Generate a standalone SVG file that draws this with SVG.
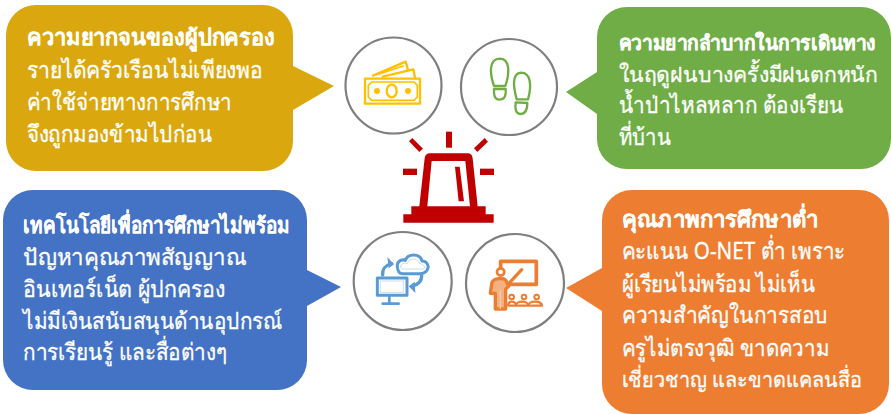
<svg xmlns="http://www.w3.org/2000/svg" width="891" height="414" viewBox="0 0 891 414">
<style>
text{font-family:"Noto Sans","Liberation Sans","DejaVu Sans",sans-serif;font-size:23px;fill:#fff;stroke:#fff;stroke-width:.3}
text.b{font-weight:700;font-size:22px;stroke-width:.1}
text.s{font-size:21.5px}
text.t{font-size:20px;stroke-width:.3}
.ring{fill:#fff;stroke:#7f7f7f;stroke-width:2.2}
.ic{fill:none;stroke-linejoin:round;stroke-linecap:round}
</style>
<rect width="891" height="414" fill="#fff"/>
<g id="connectors"></g>
<g id="bubble-poverty">
<path fill="#daa80e" d="M36 5H263A30 30 0 0 1 293 35V66L334 86L293 110V141A30 30 0 0 1 263 171H36A30 30 0 0 1 6 141V35A30 30 0 0 1 36 5Z"/>
<text class="b" x="27" y="45" textLength="248" lengthAdjust="spacingAndGlyphs">ความยากจนของผู้ปกครอง</text>
<text x="27" y="78" textLength="236" lengthAdjust="spacingAndGlyphs">รายได้ครัวเรือนไม่เพียงพอ</text>
<text x="27" y="110" textLength="205" lengthAdjust="spacingAndGlyphs">ค่าใช้จ่ายทางการศึกษา</text>
<text x="27" y="142" textLength="185" lengthAdjust="spacingAndGlyphs">จึงถูกมองข้ามไปก่อน</text>
</g>
<g id="bubble-travel">
<path fill="#70ad47" d="M627 7H861A30 30 0 0 1 891 37V139A30 30 0 0 1 861 169H627A30 30 0 0 1 597 139V114L566 92L597 72V37A30 30 0 0 1 627 7Z"/>
<text class="b t" x="619" y="50" textLength="257" lengthAdjust="spacingAndGlyphs">ความยากลำบากในการเดินทาง</text>
<text class="s" x="619" y="82" textLength="259" lengthAdjust="spacingAndGlyphs">ในฤดูฝนบางครั้งมีฝนตกหนัก</text>
<text x="619" y="113" textLength="224" lengthAdjust="spacingAndGlyphs">น้ำป่าไหลหลาก ต้องเรียน</text>
<text x="619" y="145" textLength="52" lengthAdjust="spacingAndGlyphs">ที่บ้าน</text>
</g>
<g id="bubble-technology">
<path fill="#4472c4" d="M33 190H277A30 30 0 0 1 307 220V270L341 287L307 306V360A30 30 0 0 1 277 390H33A30 30 0 0 1 3 360V220A30 30 0 0 1 33 190Z"/>
<text class="b" x="23" y="233" textLength="267" lengthAdjust="spacingAndGlyphs">เทคโนโลยีเพื่อการศึกษาไม่พร้อม</text>
<text x="23" y="265" textLength="223" lengthAdjust="spacingAndGlyphs">ปัญหาคุณภาพสัญญาณ</text>
<text x="23" y="297" textLength="202" lengthAdjust="spacingAndGlyphs">อินเทอร์เน็ต ผู้ปกครอง</text>
<text x="23" y="329" textLength="259" lengthAdjust="spacingAndGlyphs">ไม่มีเงินสนับสนุนด้านอุปกรณ์</text>
<text x="23" y="360" textLength="204" lengthAdjust="spacingAndGlyphs">การเรียนรู้ และสื่อต่างๆ</text>
</g>
<g id="bubble-quality">
<path fill="#ed7d31" d="M632 190H859A30 30 0 0 1 889 220V384A30 30 0 0 1 859 414H632A30 30 0 0 1 602 384V311L566 288L602 268V220A30 30 0 0 1 632 190Z"/>
<text class="b" x="622" y="227" textLength="196" lengthAdjust="spacingAndGlyphs">คุณภาพการศึกษาต่ำ</text>
<text x="622" y="259" textLength="223" lengthAdjust="spacingAndGlyphs">คะแนน O-NET ต่ำ เพราะ</text>
<text x="622" y="292" textLength="193" lengthAdjust="spacingAndGlyphs">ผู้เรียนไม่พร้อม ไม่เห็น</text>
<text x="622" y="323" textLength="206" lengthAdjust="spacingAndGlyphs">ความสำคัญในการสอบ</text>
<text x="622" y="356" textLength="207" lengthAdjust="spacingAndGlyphs">ครูไม่ตรงวุฒิ ขาดความ</text>
<text class="s" x="622" y="387" textLength="240" lengthAdjust="spacingAndGlyphs">เชี่ยวชาญ และขาดแคลนสื่อ</text>
</g>
<g id="icon-money">
<circle class="ring" cx="393.5" cy="85.5" r="48"/>
<g transform="translate(340 30) scale(.3333)" class="ic" stroke="#ffc000">
<rect x="75" y="146" width="165" height="75" stroke-width="7"/>
<path stroke-width="5" d="M95 156H222L232 166V201L222 211H95L85 201V166Z"/>
<ellipse cx="155" cy="183" rx="15" ry="19" stroke-width="7"/>
<circle cx="111" cy="183" r="9" fill="#ffc000" stroke="none"/>
<circle cx="204" cy="183" r="9" fill="#ffc000" stroke="none"/>
<path stroke-width="7" d="M99 137L197 95L204 120"/>
<path stroke-width="7" d="M128 140L220 118L225 143"/>
<path stroke-width="5" d="M118 132L190 108"/>
</g>
</g>
<g id="icon-footprints">
<circle class="ring" cx="509" cy="87" r="48"/>
<g transform="translate(340 30) scale(.3333)" class="ic" stroke="#70ad47" stroke-width="7">
<path d="M462 168C449 130 446 87 479 86C511 86 509 130 496 168Z"/>
<path d="M462 177L497 177C499 196 494 209 478 209C463 209 461 193 462 177Z"/>
<path d="M530 208C520 170 515 130 543 128C574 128 575 170 564 208Z"/>
<path d="M527 217L562 219C562 238 557 252 541 252C526 252 525 234 527 217Z"/>
</g>
</g>
<g id="icon-computer-cloud">
<circle class="ring" cx="402.7" cy="281" r="49"/>
<g transform="translate(340 225) scale(.3333)" class="ic" stroke="#5b9bd5">
<rect x="112" y="159" width="89" height="52" stroke-width="9"/>
<rect x="122" y="168" width="68" height="34" stroke-width="2.5" stroke="#bdd7ee"/>
<path stroke-width="8" d="M148 215V232M128 236H176"/>
<path stroke-width="9" d="M172 125C170 108 186 102 196 106C204 84 240 84 246 108C262 108 268 124 262 134C256 144 246 146 238 146H186C178 146 173 136 172 125Z"/>
<path stroke-width="2.5" stroke="#bdd7ee" d="M182 125C182 116 194 112 202 116C208 98 234 98 238 116C250 116 256 124 252 132H190C186 132 182 130 182 125Z"/>
<path stroke-width="10" d="M128 150C126 132 138 120 155 116"/>
<path fill="#5b9bd5" stroke="none" d="M142 96L162 118L146 130Z"/>
<path stroke-width="10" d="M245 150C246 168 234 180 216 184"/>
<path fill="#5b9bd5" stroke="none" d="M226 204L206 184L224 170Z"/>
</g>
</g>
<g id="icon-teacher">
<circle class="ring" cx="515" cy="283" r="49"/>
<g transform="translate(340 225) scale(.3333)" class="ic" stroke="#ed7d31">
<path stroke-width="11" d="M482 128V109H589V178H512"/>
<path stroke-width="10" d="M506 176L545 134"/>
<circle cx="482" cy="141" r="11" stroke-width="8"/>
<path stroke-width="10" fill="#f4b183" d="M451 205L456 172C462 158 490 158 498 166L506 184L497 192V252H466V205Z"/>
<path stroke-width="4" stroke="#f8cbad" d="M481 198V250"/>
<circle cx="515" cy="216" r="7" stroke-width="6"/>
<circle cx="552" cy="216" r="7" stroke-width="6"/>
<circle cx="590" cy="216" r="7" stroke-width="6"/>
<path stroke-width="7" d="M505 242C503 226 528 226 528 242C528 226 565 226 565 242C565 226 604 226 606 242H505Z"/>
</g>
</g>
<g id="icon-alarm">
<g transform="translate(340 125) scale(.3333)" fill="#c00000">
<path fill-rule="evenodd" d="M190 293V268H214V244H238L254 100Q256 85 270 85H383Q396 85 398 100L413 244H437V268H461V293ZM262 244H390L376 108H275Z"/>
<path d="M345 125H359L372 229H356Z"/>
<rect x="318" y="20" width="18" height="48"/>
<rect x="189" y="131" width="42" height="19"/>
<rect x="420" y="131" width="42" height="19"/>
<path d="M217 39L249 71L238 81L207 49Z"/>
<path d="M434 39L444 50L412 81L402 70Z"/>
</g>
</g>
</svg>
